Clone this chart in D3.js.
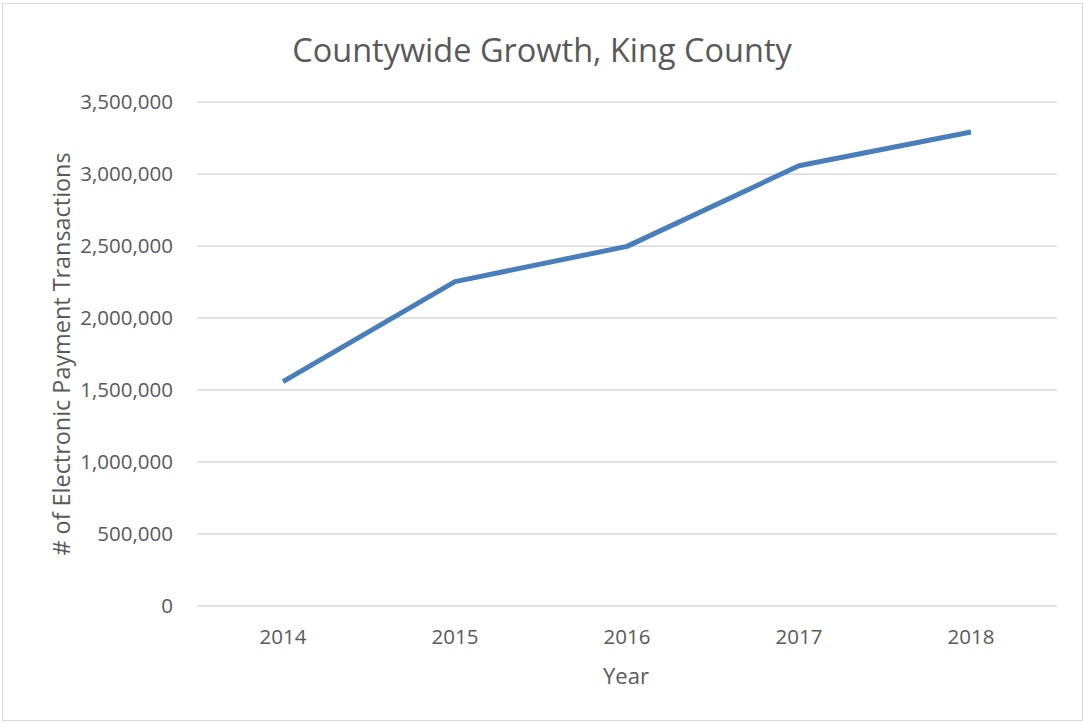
<!DOCTYPE html>
<html>
<head>
<meta charset="utf-8">
<script src="https://cdn.jsdelivr.net/npm/d3@7"></script>
<style>
  html, body { margin: 0; padding: 0; background: #ffffff; }
  svg { display: block; }
  text { font-family: "Open Sans", "Noto Sans", sans-serif; fill: #595959; }
</style>
</head>
<body>
<svg id="chart" width="1084" height="723"></svg>
<script>
// Electronic payment transactions per year, King County
const years = ["2014", "2015", "2016", "2017", "2018"];
const transactions = [1555000, 2250000, 2495000, 3055000, 3290000];
const yTicks = [0, 500000, 1000000, 1500000, 2000000, 2500000, 3000000, 3500000];

const chartTitle = "Countywide Growth, King County";
const xTitle = "Year";
const yTitle = "# of Electronic Payment Transactions";

const W = 1084, H = 723;
const plot = { left: 197, right: 1057, top: 101.7, bottom: 605.5 };

const svg = d3.select("#chart");

// outer chart border
svg.append("rect")
  .attr("x", 2.5).attr("y", 3.5)
  .attr("width", W - 4).attr("height", H - 6)
  .attr("fill", "#ffffff")
  .attr("stroke", "#d9d9d9").attr("stroke-width", 1);

const x = d3.scaleBand().domain(years).range([plot.left, plot.right]);
const y = d3.scaleLinear().domain([0, 3500000]).range([plot.bottom, plot.top]);

// horizontal gridlines with value labels
const yAxis = d3.axisLeft(y)
  .tickValues(yTicks)
  .tickSize(-(plot.right - plot.left))
  .tickPadding(24)
  .tickFormat(d3.format(","));

const gy = svg.append("g")
  .attr("transform", `translate(${plot.left},0)`)
  .call(yAxis);
gy.select(".domain").remove();
gy.selectAll(".tick line").attr("stroke", "#d9d9d9").attr("stroke-width", 1.5);
gy.selectAll(".tick text")
  .attr("font-size", 20.5)
  .attr("fill", "#595959")
  .style("font-family", "'Open Sans', sans-serif");

// category labels along the bottom
const xAxis = d3.axisBottom(x).tickSize(0).tickPadding(24);
const gx = svg.append("g")
  .attr("transform", `translate(0,${plot.bottom})`)
  .call(xAxis);
gx.select(".domain").remove();
gx.selectAll(".tick text")
  .attr("font-size", 20.5)
  .attr("fill", "#595959")
  .style("font-family", "'Open Sans', sans-serif");

// data line
const line = d3.line()
  .x((d, i) => x(years[i]) + x.bandwidth() / 2)
  .y(d => y(d));

svg.append("path")
  .datum(transactions)
  .attr("d", line)
  .attr("fill", "none")
  .attr("stroke", "#4a7ebb")
  .attr("stroke-width", 5)
  .attr("stroke-linejoin", "round")
  .attr("stroke-linecap", "butt");

// titles
svg.append("text")
  .attr("x", 542).attr("y", 62)
  .attr("text-anchor", "middle")
  .attr("font-size", 32.5)
  .text(chartTitle);

svg.append("text")
  .attr("x", 626).attr("y", 684)
  .attr("text-anchor", "middle")
  .attr("font-size", 22)
  .text(xTitle);

svg.append("text")
  .attr("transform", `translate(70,354) rotate(-90)`)
  .attr("text-anchor", "middle")
  .attr("font-size", 23.4)
  .text(yTitle);
</script>
</body>
</html>
